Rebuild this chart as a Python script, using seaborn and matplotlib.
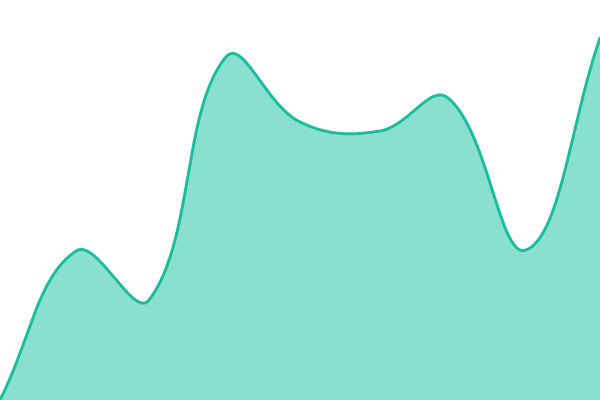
import numpy as np
import matplotlib
matplotlib.use("Agg")
import matplotlib.pyplot as plt
import seaborn as sns

# data points (x position, value)
x_vals = [0, 76, 149, 226, 300, 380, 448, 526, 600]
y_vals = [0, 149, 100, 343, 278, 269, 302, 150, 362]

LINE = "#1abc9c"
FILL = "#8ae0cf"
TENSION = 0.4


def spline_curve(xs, ys, tension=TENSION, n=60):
    # bezier curve through the points, tension-based control points
    pts = np.column_stack([xs, ys]).astype(float)
    m = len(pts)
    cps = []
    for i in range(m):
        prev = pts[max(i - 1, 0)]
        cur = pts[i]
        nxt = pts[min(i + 1, m - 1)]
        d01 = np.hypot(*(cur - prev))
        d12 = np.hypot(*(nxt - cur))
        tot = d01 + d12 if d01 + d12 > 0 else 1
        fa = tension * d01 / tot
        fb = tension * d12 / tot
        cp_prev = cur - fa * (nxt - prev)
        cp_next = cur + fb * (nxt - prev)
        cp_prev[1] = np.clip(cp_prev[1], 0, 400)
        cp_next[1] = np.clip(cp_next[1], 0, 400)
        cps.append((cp_prev, cp_next))
    t = np.linspace(0, 1, n)[:, None]
    segs = []
    for i in range(m - 1):
        p0 = pts[i]
        p1 = cps[i][1]
        p2 = cps[i + 1][0]
        p3 = pts[i + 1]
        seg = ((1 - t) ** 3) * p0 + 3 * ((1 - t) ** 2) * t * p1 + 3 * (1 - t) * t ** 2 * p2 + t ** 3 * p3
        segs.append(seg if i == 0 else seg[1:])
    curve = np.vstack(segs)
    return curve[:, 0], curve[:, 1]


def main():
    sns.set_style("white")
    fig = plt.figure(figsize=(6, 4), dpi=100)
    ax = fig.add_axes([0, 0, 1, 1])

    cx, cy = spline_curve(x_vals, y_vals)
    ax.fill_between(cx, 0, cy, color=FILL, linewidth=0)
    sns.lineplot(x=cx, y=cy, sort=False, color=LINE, linewidth=2.1, ax=ax)

    ax.set_xlim(0, 600)
    ax.set_ylim(0, 400)
    ax.set_axis_off()
    fig.savefig("out.png", dpi=100)


if __name__ == "__main__":
    main()
